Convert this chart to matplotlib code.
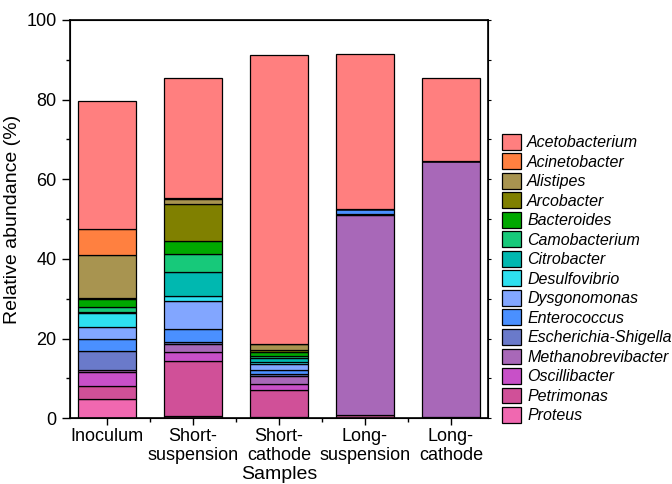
import numpy as np
import matplotlib
matplotlib.use('Agg')
from matplotlib import pyplot as plt
from matplotlib.ticker import MultipleLocator, FixedLocator

plt.rcParams['font.family'] = ['Liberation Sans', 'DejaVu Sans']

samples = ['Inoculum', 'Short-\nsuspension', 'Short-\ncathode', 'Long-\nsuspension', 'Long-\ncathode']

# stacked from bottom (Proteus) to top (Acetobacterium)
proteus = [4.9, 0.5, 0.4, 0.8, 0.2]
petrimonas = [3.3, 13.8, 6.6, 0.0, 0.0]
oscillibacter = [3.4, 2.4, 1.5, 0.0, 0.0]
methanobrevibacter = [0.5, 2.0, 2.1, 50.1, 64.4]
escherichia = [4.7, 0.3, 0.4, 0.3, 0.0]
enterococcus = [3.1, 3.3, 1.2, 1.2, 0.0]
dysgonomonas = [3.1, 7.0, 1.5, 0.0, 0.0]
desulfovibrio = [3.3, 1.3, 0.3, 0.0, 0.0]
citrobacter = [0.3, 6.1, 1.0, 0.0, 0.0]
camobacterium = [1.2, 4.5, 0.5, 0.0, 0.0]
bacteroides = [2.0, 3.2, 1.2, 0.0, 0.0]
arcobacter = [0.3, 9.4, 0.4, 0.0, 0.0]
alistipes = [10.8, 1.2, 1.4, 0.0, 0.0]
acinetobacter = [6.6, 0.4, 0.0, 0.0, 0.0]
acetobacterium = [32.2, 29.9, 72.7, 38.9, 20.7]

genera = ['Proteus', 'Petrimonas', 'Oscillibacter', 'Methanobrevibacter',
          'Escherichia-Shigella', 'Enterococcus', 'Dysgonomonas', 'Desulfovibrio',
          'Citrobacter', 'Camobacterium', 'Bacteroides', 'Arcobacter',
          'Alistipes', 'Acinetobacter', 'Acetobacterium']
values = [proteus, petrimonas, oscillibacter, methanobrevibacter, escherichia,
          enterococcus, dysgonomonas, desulfovibrio, citrobacter, camobacterium,
          bacteroides, arcobacter, alistipes, acinetobacter, acetobacterium]
colors = ['#F068B0', '#D05098', '#C850C8', '#A868B8', '#6A7ACA',
          '#4A90FF', '#82A6FF', '#2EE0F0', '#00B8B0', '#17C97A',
          '#00A800', '#808000', '#A89450', '#FF8040', '#FF7F7F']

fig = plt.figure(figsize=(6.72, 4.84), dpi=100)
ax = fig.add_axes([0.104, 0.136, 0.622, 0.823])

x = np.arange(len(samples))
bottom = np.zeros(len(samples))
handles = []
for name, vals, c in zip(genera, values, colors):
    b = ax.bar(x, vals, 0.67, bottom=bottom, color=c, edgecolor='black', linewidth=0.9, label=name)
    handles.append(b)
    bottom += np.array(vals)

ax.set_xlim(-0.43, 4.43)
ax.set_ylim(0, 100)
ax.set_xticks(x)
ax.set_xticklabels(samples, fontsize=13)
ax.xaxis.set_minor_locator(FixedLocator(x[:-1] + 0.5))
ax.yaxis.set_major_locator(MultipleLocator(20))
ax.yaxis.set_minor_locator(MultipleLocator(10))
ax.tick_params(axis='y', labelsize=13, length=6, width=1)
ax.tick_params(axis='y', which='minor', length=3, width=1)
ax.tick_params(axis='x', length=5, width=1, pad=2)
ax.tick_params(axis='x', which='minor', length=3, width=1)
for s in ax.spines.values():
    s.set_linewidth(1.2)

# small ticks on the right spine
ax2 = ax.twinx()
ax2.set_ylim(0, 100)
ax2.yaxis.set_major_locator(MultipleLocator(10))
ax2.tick_params(axis='y', length=2, width=0.8, labelright=False)

ax.set_ylabel('Relative abundance (%)', fontsize=14)
ax.set_xlabel('Samples', fontsize=14, labelpad=1)

leg = fig.legend(handles[::-1], genera[::-1], loc='upper left', bbox_to_anchor=(0.737, 0.737),
                 frameon=False, prop={'style': 'italic', 'size': 11.5},
                 handlelength=1.2, handleheight=1.15, handletextpad=0.4, labelspacing=0.2,
                 borderaxespad=0)

fig.savefig('out.png', dpi=100)
